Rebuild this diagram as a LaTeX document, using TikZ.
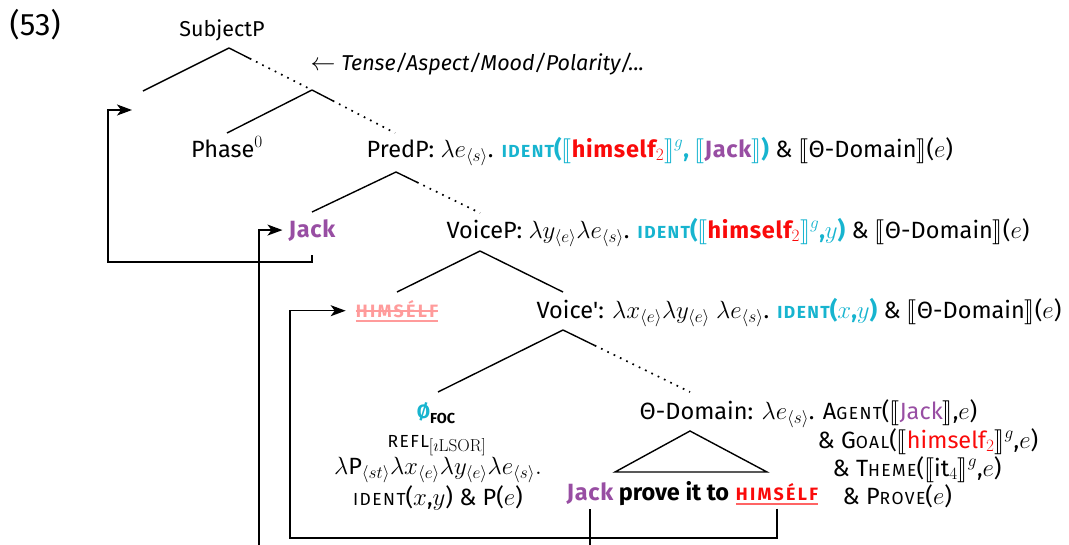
\documentclass[tikz,border=0pt]{standalone}
\usepackage[no-math]{fontspec}
\setmainfont{Fira Sans}[Scale=0.94]
\usepackage{stmaryrd}
\usepackage{graphicx}
\usetikzlibrary{arrows.meta,calc}
\DeclareMathSizes{25}{25}{18.5}{14}
\definecolor{cy}{RGB}{23,180,207}
\definecolor{pu}{RGB}{152,78,163}
\definecolor{rd}{RGB}{250,10,10}
\definecolor{pk}{RGB}{255,155,155}
\definecolor{ulc}{RGB}{255,100,100}
\newcommand\fsc[1]{{\fontsize{18.6}{18.6}\selectfont\addfontfeatures{LetterSpace=8}#1}}
\newcommand\hsc[1]{{\fontsize{19}{19}\selectfont\bfseries\addfontfeatures{LetterSpace=13}#1}}
\newcommand\bsp{\bfseries\addfontfeatures{LetterSpace=3}}
\newcommand\sem[1]{$\llbracket$#1$\rrbracket$}
\newcommand\ustrk[2]{\setbox0=\hbox{#2}\rlap{\color{#1}\rule[-4.5pt]{\wd0}{1.5pt}}\rlap{\color{#1}\rule[5.4pt]{\wd0}{1.5pt}}\box0}
\newcommand\ulin[2]{\setbox0=\hbox{#2}\rlap{\color{#1}\rule[-4.5pt]{\wd0}{1.5pt}}\box0}
\newcommand\dotbr[2]{\draw[br] (#1) -- ($(#1)!0.25!(#2)$); \draw[dots] ($(#1)!0.25!(#2)$) -- (#2);}
\begin{document}
\begin{tikzpicture}[x=1pt,y=-1pt,font=\fontsize{25}{29}\selectfont,
  lbl/.style={inner sep=0.5pt, anchor=base west},
  ctr/.style={inner sep=2pt, anchor=base},
  br/.style={line width=1.4pt},
  dots/.style={line width=1.7pt, dash pattern=on 1.7pt off 5.3pt},
  mv/.style={line width=1.4pt, -{Stealth[length=15pt,width=11pt,inset=4pt]}}]
\useasboundingbox (0,0) rectangle (1069,544);
\clip (0,0) rectangle (1069,544);
% labels
\node[lbl] (ex) at (9,35) {\fontsize{33}{33}\selectfont(53)};
\node[ctr] (subj) at (222,36) {\fontsize{22.9}{26}\selectfont SubjectP};
\node[lbl] (tam) at (310,70) {\fontsize{22.9}{26}\selectfont$\leftarrow$ \textit{Tense/Aspect/Mood/Polarity/...}};
\node[ctr] (phase) at (227,157) {Phase$^0$};
\node[lbl] (predp) at (366,157) {PredP: $\lambda e_{\langle s\rangle}$. {\color{cy}\bfseries \fsc{IDENT}(\sem{{\color{rd}\bsp himself$_2$}}$^g$, \sem{{\color{pu}\bsp Jack}})} \& \sem{Θ-Domain}($e$)};
\node[ctr] (jack) at (312,237) {\bsp\color{pu}Jack};
\node[lbl] (voicep) at (446,238) {VoiceP: $\lambda y_{\langle e\rangle}\lambda e_{\langle s\rangle}$. {\color{cy}\bfseries \fsc{IDENT}(\sem{{\color{rd}\bsp himself$_2$}}$^g$,$y$)} \& \sem{Θ-Domain}($e$)};
\node[ctr] (trace) at (397,317) {\ustrk{pk}{\color{pk}\hsc{HIMSÉLF}}};
\node[lbl] (voicebar) at (536,318) {Voice\textquotesingle: $\lambda x_{\langle e\rangle}\lambda y_{\langle e\rangle}\ \lambda e_{\langle s\rangle}$. {\color{cy}\bfseries\fsc{IDENT}($x$,$y$)} \& \sem{Θ-Domain}($e$)};
\node[ctr] (foc) at (436,418) {{\color{cy}\bfseries\fontsize{20.5}{20.5}\selectfont Ø}\raisebox{-5pt}{\fontsize{15.4}{15.4}\selectfont\bfseries FOC}};
\node[ctr] (refl) at (437,447) {\fsc{REFL}$_{[\imath\mathrm{LSOR}]}$};
\node[ctr] (lamP) at (438,474) {$\lambda\mbox{P}_{\langle st\rangle}\lambda x_{\langle e\rangle}\lambda y_{\langle e\rangle}\lambda e_{\langle s\rangle}.$};
\node[ctr] (identP) at (438,505) {\fsc{IDENT}($x$,$y$) \& P($e$)};
\node[lbl] (thd) at (639,419) {Θ-Domain: $\lambda e_{\langle s\rangle}$. A\fsc{GENT}(\sem{{\color{pu}Jack}},$e$)};
\node[lbl] (goal) at (817,448) {\& G\fsc{OAL}(\sem{{\color{rd}himself$_2$}}$^g$,$e$)};
\node[lbl] (theme) at (832,476) {\& T\fsc{HEME}(\sem{it$_4$}$^g$,$e$)};
\node[lbl] (prove) at (842,504) {\& P\fsc{ROVE}($e$)};
\node[ctr] (jack2) at (590,500) {\bsp\color{pu}Jack};
\node[ctr] (prv) at (674,500) {\bfseries prove it to};
\node[ctr] (himb) at (777,500) {\ulin{ulc}{\color{rd}\hsc{HIMSÉLF}}};
% tree positions
\coordinate (a0) at (229,48);
\coordinate (l0) at (143,91);
\coordinate (a1) at (312,90);
\coordinate (ph) at (227,133);
\coordinate (p1) at (395,133);
\coordinate (a2) at (396,172);
\coordinate (jk) at (312,212);
\coordinate (v1) at (480,213);
\coordinate (a3) at (480,251);
\coordinate (tr) at (397,292);
\coordinate (vb) at (563,292);
\coordinate (a4) at (563,330);
\coordinate (fc) at (438,392);
\coordinate (td) at (690,392);
\coordinate (t0) at (690,431);
\coordinate (tl) at (615,472);
\coordinate (trr) at (767,472);
\coordinate (spec) at (132,110);
\coordinate (c1) at (108,262);
\coordinate (c2) at (259,560);
\coordinate (c3) at (290,538);
% branches
\draw[br] (a0) -- (l0); \dotbr{a0}{a1}
\draw[br] (a1) -- (ph); \dotbr{a1}{p1}
\draw[br] (a2) -- (jk); \dotbr{a2}{v1}
\draw[br] (a3) -- (tr); \draw[br] (a3) -- (vb);
\draw[br] (a4) -- (fc); \dotbr{a4}{td}
\draw[br] (tl) -- (t0) -- (trr) -- cycle;
% movement
\draw[mv] ([yshift=-12pt]jack.south) |- (c1) |- (spec);
\draw[mv] ([yshift=-3pt]jack2.south) |- (c2) |- ([xshift=-4pt]jack.west);
\draw[mv] ([yshift=-2pt]himb.south) |- (c3) |- ([xshift=-8pt]trace.west);
\end{tikzpicture}
\end{document}
